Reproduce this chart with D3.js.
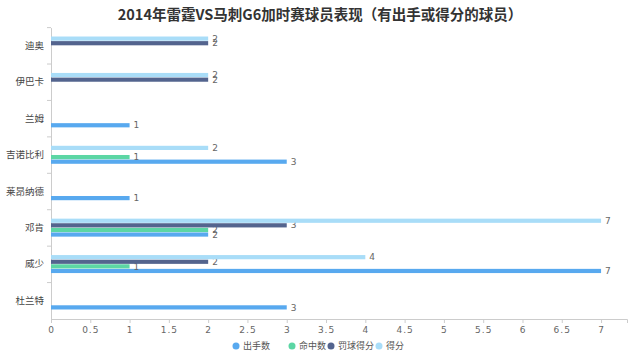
<!DOCTYPE html>
<html lang="zh">
<head>
  <meta charset="UTF-8">
  <title>2014年雷霆VS马刺G6加时赛球员表现</title>
  <style>
    body {
      margin: 0;
      padding: 0;
      background: #ffffff;
      font-family: "Noto Sans CJK SC", "Noto Sans", sans-serif;
    }
    svg { display: block; }
  </style>
</head>
<body>
  <svg id="chart"></svg>

  <script src="https://d3js.org/d3.v7.min.js"></script>
  <script>
    const width = 640;
    const height = 360;

    // players, bottom to top as in the original
    const players = ["杜兰特", "威少", "邓肯", "莱昂纳德", "吉诺比利", "兰姆", "伊巴卡", "迪奥"];
    const seriesNames = ["出手数", "命中数", "罚球得分", "得分"];
    const seriesColors = ["#58a9ef", "#5cd6a4", "#53648e", "#a9ddf8"];

    const shots      = [3, 7, 2, 1, 3, 1, 0, 0];
    const made       = [0, 1, 2, 0, 1, 0, 0, 0];
    const freeThrows = [0, 2, 3, 0, 0, 0, 2, 2];
    const points     = [0, 4, 7, 0, 2, 0, 2, 2];
    const seriesValues = [shots, made, freeThrows, points];

    const xTicks = [0, 0.5, 1, 1.5, 2, 2.5, 3, 3.5, 4, 4.5, 5, 5.5, 6, 6.5, 7];

    const margin = { top: 27.6, right: 13, bottom: 41, left: 51 };

    const svg = d3.select("#chart").attr("width", width).attr("height", height);

    // title
    svg.append("text")
      .attr("x", width / 2)
      .attr("y", 20)
      .attr("text-anchor", "middle")
      .style("font-size", "14.5px")
      .style("font-weight", "bold")
      .style("fill", "#333")
      .text("2014年雷霆VS马刺G6加时赛球员表现（有出手或得分的球员）");

    const x = d3.scaleLinear()
      .domain([0, 7.33])
      .range([margin.left, width - margin.right]);

    const y = d3.scaleBand()
      .domain(players)
      .range([height - margin.bottom, margin.top]);

    // x axis
    const xAxis = svg.append("g")
      .attr("transform", `translate(0, ${height - margin.bottom})`)
      .call(d3.axisBottom(x).tickValues(xTicks).tickSize(4).tickPadding(4).tickFormat(d3.format("")));
    xAxis.select(".domain").attr("stroke", "#ccc");
    xAxis.selectAll(".tick line").attr("stroke", "#ccc");
    xAxis.selectAll("text")
      .style("font-size", "9px")
      .style("letter-spacing", "1px")
      .style("fill", "#666")
      .style("font-family", "'DejaVu Sans', sans-serif");

    // y axis
    const yAxis = svg.append("g")
      .attr("transform", `translate(${margin.left}, 0)`)
      .call(d3.axisLeft(y).tickSize(0).tickPadding(7));
    yAxis.select(".domain").attr("stroke", "#ccc");
    yAxis.selectAll("text")
      .style("font-size", "9.5px")
      .style("fill", "#444")
      .style("font-family", "'Noto Sans CJK SC', sans-serif");

    // category boundary ticks
    svg.append("g").selectAll("line")
      .data(players)
      .enter().append("line")
      .attr("x1", margin.left - 4)
      .attr("x2", margin.left)
      .attr("y1", d => y(d))
      .attr("y2", d => y(d))
      .attr("stroke", "#ccc");

    // bars, first series at the bottom of each group
    const barH = 4.2;
    const step = 4.6;
    const inner = d3.scaleBand()
      .domain(d3.range(seriesNames.length))
      .range([step * 2, -step * 2]);

    seriesNames.forEach((name, si) => {
      const rows = players.map((p, i) => ({ player: p, value: seriesValues[si][i] }))
        .filter(d => d.value > 0);
      const g = svg.append("g");
      const cy = d => y(d.player) + y.bandwidth() / 2 + inner(si) + inner.bandwidth() / 2 - 0.3;

      g.selectAll("rect")
        .data(rows)
        .enter().append("rect")
        .attr("x", x(0))
        .attr("y", d => cy(d) - barH / 2)
        .attr("width", d => x(d.value) - x(0))
        .attr("height", barH)
        .attr("fill", seriesColors[si]);

      g.selectAll("text")
        .data(rows)
        .enter().append("text")
        .attr("x", d => x(d.value) + 4)
        .attr("y", d => cy(d))
        .attr("dy", "0.35em")
        .style("font-size", "9px")
        .style("fill", "#666")
        .style("font-family", "'DejaVu Sans', sans-serif")
        .text(d => d.value);
    });

    // legend
    const legendX = [236, 292, 331, 379];
    const legend = svg.append("g");
    seriesNames.forEach((name, si) => {
      legend.append("circle")
        .attr("cx", legendX[si])
        .attr("cy", 346)
        .attr("r", 3.5)
        .attr("fill", seriesColors[si]);
      legend.append("text")
        .attr("x", legendX[si] + 7)
        .attr("y", 346)
        .attr("dy", "0.35em")
        .style("font-size", "9px")
        .style("fill", "#555")
        .text(name);
    });
  </script>
</body>
</html>
